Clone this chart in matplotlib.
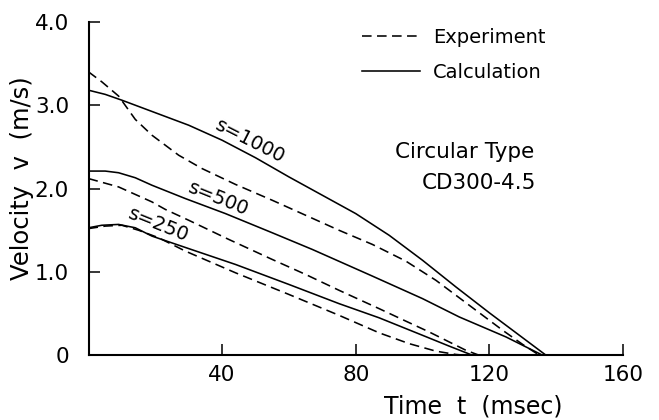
import matplotlib
matplotlib.use("Agg")
import matplotlib.pyplot as plt

# velocity curves (t in msec, v in m/s)
t_calc_1000 = [0, 5, 10, 20, 30, 40, 50, 60, 70, 80, 90, 100, 110, 120, 130, 137]
v_calc_1000 = [3.18, 3.13, 3.06, 2.91, 2.76, 2.58, 2.37, 2.14, 1.92, 1.70, 1.44, 1.14, 0.82, 0.51, 0.21, 0]

t_exp_1000 = [0, 4, 9, 14, 19, 27, 34, 44, 55, 65, 75, 85, 95, 104, 114, 124, 130, 135]
v_exp_1000 = [3.40, 3.28, 3.11, 2.83, 2.64, 2.40, 2.24, 2.05, 1.86, 1.68, 1.50, 1.33, 1.13, 0.90, 0.60, 0.30, 0.13, 0]

t_calc_500 = [0, 5, 9, 14, 19, 29, 41, 55, 67, 85, 100, 111, 125, 136]
v_calc_500 = [2.21, 2.21, 2.19, 2.13, 2.04, 1.88, 1.70, 1.47, 1.27, 0.95, 0.68, 0.46, 0.22, 0]

t_exp_500 = [0, 9, 19, 23, 30, 42, 55, 65, 75, 87, 95, 102, 108, 113, 117]
v_exp_500 = [2.12, 2.02, 1.84, 1.75, 1.62, 1.39, 1.15, 0.97, 0.78, 0.56, 0.41, 0.28, 0.16, 0.06, 0]

t_calc_250 = [0, 4, 9, 14, 19, 30, 44, 60, 75, 87, 100, 108, 115]
v_calc_250 = [1.53, 1.56, 1.57, 1.53, 1.43, 1.28, 1.09, 0.85, 0.62, 0.45, 0.24, 0.11, 0]

t_exp_250 = [0, 5, 10, 15, 21, 29, 44, 60, 75, 87, 96, 104, 110, 113]
v_exp_250 = [1.52, 1.55, 1.56, 1.50, 1.41, 1.25, 0.99, 0.73, 0.48, 0.27, 0.14, 0.05, 0.01, 0]

x_ticks = [40, 80, 120, 160]
y_ticks = [0, 1, 2, 3, 4]
y_tick_labels = ["0", "1.0", "2.0", "3.0", "4.0"]

# curve labels: text, position (t, v), angle
curve_labels = [("s=1000", 48.5, 2.57, -27),
                ("s=500", 39, 1.88, -22),
                ("s=250", 21, 1.57, -22)]

fig = plt.figure(figsize=(6.59, 4.2), dpi=100)
ax = fig.add_axes([0.1343, 0.154, 0.811, 0.794])

dash = (0, (6, 3.4))
lw = 1.15
ax.plot(t_exp_1000, v_exp_1000, color="black", lw=lw, linestyle=dash, label="Experiment")
ax.plot(t_calc_1000, v_calc_1000, color="black", lw=lw, label="Calculation")
ax.plot(t_exp_500, v_exp_500, color="black", lw=lw, linestyle=dash)
ax.plot(t_calc_500, v_calc_500, color="black", lw=lw)
ax.plot(t_exp_250, v_exp_250, color="black", lw=lw, linestyle=dash)
ax.plot(t_calc_250, v_calc_250, color="black", lw=lw)

for txt, tx, ty, ang in curve_labels:
    ax.text(tx, ty, txt, rotation=ang, ha="center", va="center", fontsize=14,
            rotation_mode="anchor")

ax.text(0.703, 0.61, "Circular Type", transform=ax.transAxes, ha="center",
        va="center", fontsize=15.5)
ax.text(0.731, 0.517, "CD300-4.5", transform=ax.transAxes, ha="center",
        va="center", fontsize=15.5)

ax.legend(loc="upper left", bbox_to_anchor=(0.479, 1.035), frameon=False,
          fontsize=14, handlelength=3.0, handletextpad=0.67, labelspacing=0.85)

ax.set_xlim(0, 160)
ax.set_ylim(0, 4.0)
ax.set_xticks(x_ticks)
ax.set_yticks(y_ticks)
ax.set_yticklabels(y_tick_labels)
ax.tick_params(direction="in", length=8, width=1.1, labelsize=15.5)
ax.tick_params(axis="y", pad=14)
ax.tick_params(axis="x", pad=7)
ax.spines["top"].set_visible(False)
ax.spines["right"].set_visible(False)
ax.spines["left"].set_linewidth(1.5)
ax.spines["bottom"].set_linewidth(1.5)

ax.set_ylabel("Velocity  v  (m/s)", fontsize=17.5)
ax.set_xlabel("Time  t  (msec)", fontsize=17)
ax.xaxis.set_label_coords(0.72, -0.118)
ax.yaxis.set_label_coords(-0.102, 0.53)

fig.savefig("out.png", dpi=100)
